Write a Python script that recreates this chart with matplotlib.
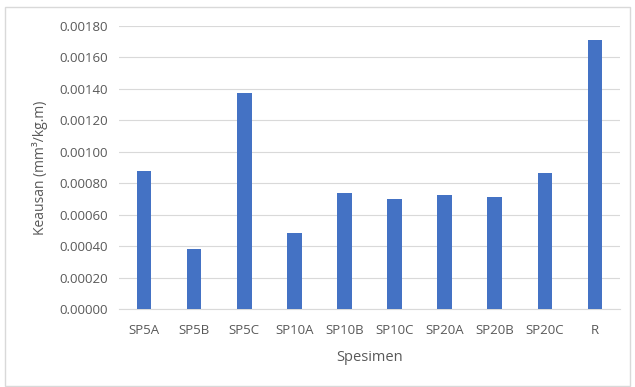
import matplotlib
matplotlib.use("Agg")
import matplotlib.pyplot as plt
from matplotlib.patches import Rectangle
from matplotlib.ticker import FormatStrFormatter, MultipleLocator

specimens = ["SP5A", "SP5B", "SP5C", "SP10A", "SP10B", "SP10C",
             "SP20A", "SP20B", "SP20C", "R"]
wear = [0.000880, 0.000382, 0.001372, 0.000485, 0.000736, 0.000702,
        0.000725, 0.000712, 0.000867, 0.001711]

plt.rcParams["font.family"] = ["Open Sans", "DejaVu Sans"]
text_grey = "#595959"

fig = plt.figure(figsize=(6.35, 3.87), dpi=100)
ax = fig.add_axes([119 / 635, 1 - 309 / 387, 501 / 635, 283 / 387])

x = range(len(specimens))
ax.bar(x, wear, width=0.29, color="#4472C4", zorder=3)

ax.set_xlim(-0.5, len(specimens) - 0.5)
ax.set_ylim(0, 0.0018)
ax.yaxis.set_major_locator(MultipleLocator(0.0002))
ax.yaxis.set_major_formatter(FormatStrFormatter("%.5f"))
ax.set_xticks(list(x))
ax.set_xticklabels(specimens)

ax.grid(axis="y", color="#d9d9d9", linewidth=0.8, zorder=0)
for s in ("top", "right", "left"):
    ax.spines[s].set_visible(False)
ax.spines["bottom"].set_color("#d9d9d9")
ax.tick_params(axis="both", length=0, labelcolor=text_grey)
ax.tick_params(axis="x", pad=11, labelsize=9.5)
ax.tick_params(axis="y", pad=8, labelsize=9.5)

ax.set_xlabel("Spesimen", fontsize=10.5, color=text_grey, labelpad=9)
ax.set_ylabel("Keausan (mm³/kg.m)", fontsize=10, color=text_grey, labelpad=8)

# rahmen um das ganze diagramm
fig.patches.append(Rectangle((5 / 635, 1 / 387), 625 / 635, 379 / 387,
                             transform=fig.transFigure, fill=False,
                             edgecolor="#d9d9d9", linewidth=1))

fig.savefig("out.png", dpi=100)
